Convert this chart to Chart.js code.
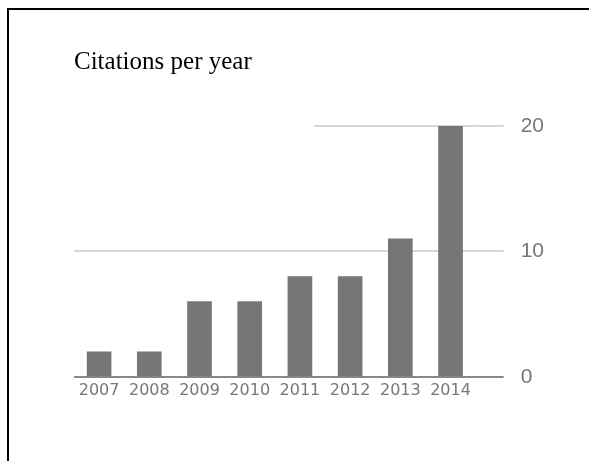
<!DOCTYPE html>
<html>
<head>
<meta charset="utf-8">
<script src="https://cdn.jsdelivr.net/npm/chart.js@4"></script>
<style>
  body { margin: 0; background: #fff; }
  #frame {
    position: absolute; left: 7px; top: 8px; right: 0; bottom: 0;
    border-left: 2px solid #000; border-top: 2px solid #000;
  }
  #citationsChart { position: absolute; left: 0; top: 0; }
</style>
</head>
<body>
<div id="frame"></div>
<canvas id="citationsChart" width="589" height="461"></canvas>
<script>
const years = ["2007", "2008", "2009", "2010", "2011", "2012", "2013", "2014"];
const citations = [2, 2, 6, 6, 8, 8, 11, 20];
const yTicks = [0, 10, 20];

// top gridline only starts right of the 2011 bar in the original
const partialTopGrid = {
  id: "partialTopGrid",
  beforeDatasetsDraw(chart) {
    const { ctx, chartArea, scales } = chart;
    const y = scales.y.getPixelForValue(yTicks[yTicks.length - 1]);
    const x0 = scales.x.getPixelForValue(4) + 14;
    ctx.save();
    ctx.strokeStyle = "#d6d6d6";
    ctx.lineWidth = 2;
    ctx.beginPath();
    ctx.moveTo(x0, y);
    ctx.lineTo(chartArea.right, y);
    ctx.stroke();
    ctx.restore();
  },
};

const ctx = document.getElementById("citationsChart").getContext("2d");
new Chart(ctx, {
  type: "bar",
  data: {
    labels: years,
    datasets: [
      {
        data: citations,
        backgroundColor: "#767676",
        borderWidth: 0,
        barThickness: 24,
      },
    ],
  },
  options: {
    responsive: false,
    animation: false,
    layout: {
      padding: { left: 74, right: 28, top: 20, bottom: 57 },
    },
    plugins: {
      legend: { display: false },
      tooltip: { enabled: false },
      title: {
        display: true,
        text: "Citations per year",
        align: "start",
        color: "#000",
        font: { family: "Liberation Serif", size: 25, weight: "normal" },
        padding: { top: 27, bottom: 49 },
      },
    },
    scales: {
      x: {
        grid: { display: false, drawTicks: false },
        border: { display: false },
        ticks: {
          color: "#777",
          font: { family: "DejaVu Sans", size: 16 },
          padding: 4,
          autoSkip: false,
          maxRotation: 0,
        },
      },
      y: {
        position: "right",
        min: 0,
        max: 20,
        afterBuildTicks: (scale) => {
          scale.ticks = yTicks.map((v) => ({ value: v }));
        },
        border: { display: false },
        grid: {
          lineWidth: 2,
          tickLength: 28,
          color: (c) =>
            c.tick.value === 0 ? "#888" : c.tick.value === 20 ? "rgba(0,0,0,0)" : "#d6d6d6",
          tickColor: (c) => (c.tick.value === 0 ? "#888" : "#d6d6d6"),
        },
        ticks: {
          color: "#777",
          font: { family: "Liberation Sans", size: 21 },
          padding: 17,
        },
      },
    },
  },
  plugins: [partialTopGrid],
});
</script>
</body>
</html>
